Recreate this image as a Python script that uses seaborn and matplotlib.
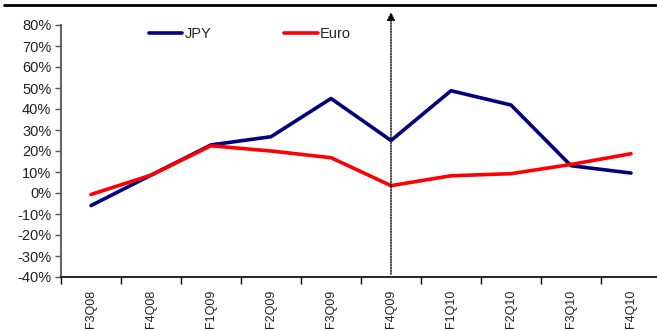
import matplotlib
matplotlib.use("Agg")
import matplotlib.pyplot as plt
from matplotlib.lines import Line2D
from matplotlib.ticker import FixedLocator, PercentFormatter
import seaborn as sns
import pandas as pd

quarters = ["F3Q08", "F4Q08", "F1Q09", "F2Q09", "F3Q09",
            "F4Q09", "F1Q10", "F2Q10", "F3Q10", "F4Q10"]
jpy = [-6.0, 8.5, 22.9, 26.8, 45.0, 25.0, 48.7, 41.9, 13.0, 9.5]
euro = [-0.7, 8.5, 22.5, 20.0, 16.8, 3.5, 8.2, 9.2, 13.6, 18.7]
marker_quarter = "F4Q09"

sns.set_theme(style="white")
plt.rcParams["font.family"] = ["Liberation Sans", "DejaVu Sans"]
plt.rcParams["axes.unicode_minus"] = False

df = pd.DataFrame({"Quarter": quarters * 2,
                   "Series": ["JPY"] * len(quarters) + ["Euro"] * len(quarters),
                   "Growth": jpy + euro})
df["x"] = list(range(len(quarters))) * 2

fig = plt.figure(figsize=(6.57, 3.30), dpi=100)
ax = fig.add_axes([61 / 657, 1 - 277 / 330, (657 - 61) / 657, (277 - 25) / 330])

sns.lineplot(data=df, x="x", y="Growth", hue="Series",
             palette={"JPY": "#000080", "Euro": "#FF0000"},
             linewidth=2.6, ax=ax, legend=False)

ax.set_xlim(-0.5, -0.5 + (657 - 61) / 60)
ax.set_ylim(-40, 80)
ax.set_xlabel("")
ax.set_ylabel("")

ax.set_yticks(range(-40, 81, 10))
ax.yaxis.set_major_formatter(PercentFormatter(decimals=0))
ax.set_xticks(range(len(quarters)))
ax.set_xticklabels(quarters, rotation=90)
ax.xaxis.set_minor_locator(FixedLocator([i - 0.5 for i in range(len(quarters) + 1)]))
ax.tick_params(axis="x", which="major", length=0, pad=9, labelsize=9, colors="#222222")
ax.tick_params(axis="x", which="minor", length=5, width=1, color="black", direction="out", bottom=True)
ax.tick_params(axis="y", which="major", length=4, width=1, color="#555555", direction="out",
               left=True, labelsize=10.5, pad=3, labelcolor="#222222")

for side in ("top", "right"):
    ax.spines[side].set_visible(False)
ax.spines["left"].set_color("#666666")
ax.spines["left"].set_linewidth(1.5)
ax.spines["bottom"].set_color("black")
ax.spines["bottom"].set_linewidth(1.2)

# dotted marker line with arrow at the reporting quarter
mx = quarters.index(marker_quarter)
ax.annotate("", xy=(mx, 87.5), xytext=(mx, -40), annotation_clip=False,
            arrowprops=dict(arrowstyle="-|>", linestyle=(0, (1, 1)), color="black",
                            linewidth=1.0, mutation_scale=12))

handles = [Line2D([0], [0], color="#000080", linewidth=2.6),
           Line2D([0], [0], color="#FF0000", linewidth=2.6)]
ax.legend(handles, ["JPY", "Euro"], ncol=2, frameon=False, loc="upper left",
          bbox_to_anchor=(0.125, 1.045), columnspacing=5.0, handlelength=2.3,
          handletextpad=0.15, fontsize=10.5)

fig.add_artist(Line2D([4 / 657, 1.0], [1 - 5 / 330, 1 - 5 / 330], color="black", linewidth=2))

fig.savefig("out.png", dpi=100)
